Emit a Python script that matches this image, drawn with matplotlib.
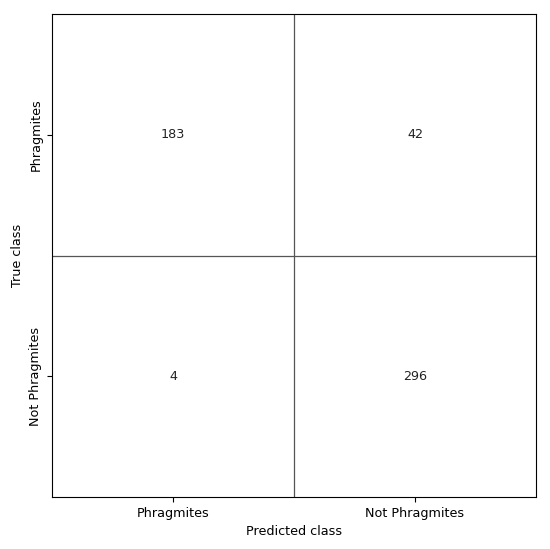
import matplotlib
matplotlib.use("Agg")
import matplotlib.pyplot as plt
import numpy as np

classes = ["Phragmites", "Not Phragmites"]
matrix = [[183, 42], [4, 296]]

fs = 9.2
fig = plt.figure(figsize=(5.5, 5.49), dpi=100)
ax = fig.add_axes([52/550, 1-497/549, (536-52)/550, (497-14)/549])
cm = np.array(matrix)
ax.imshow(np.zeros_like(cm), cmap="gray_r", vmin=0, vmax=1, aspect="auto")
for i in range(cm.shape[0]):
    for j in range(cm.shape[1]):
        ax.text(j, i, str(cm[i, j]), ha="center", va="center", fontsize=fs, color="#222222")
ax.set_xticks(range(len(classes)))
ax.set_xticklabels(classes, fontsize=fs)
ax.set_yticks(range(len(classes)))
ax.set_yticklabels(classes, rotation=90, va="center", fontsize=fs)
ax.set_xticks([0.5], minor=True)
ax.set_yticks([0.5], minor=True)
ax.tick_params(which="minor", length=0)
ax.grid(which="minor", color="#555555", linewidth=0.9)
ax.set_xlabel("Predicted class", fontsize=fs)
ax.set_ylabel("True class", fontsize=fs)
fig.savefig("out.png", dpi=100)
